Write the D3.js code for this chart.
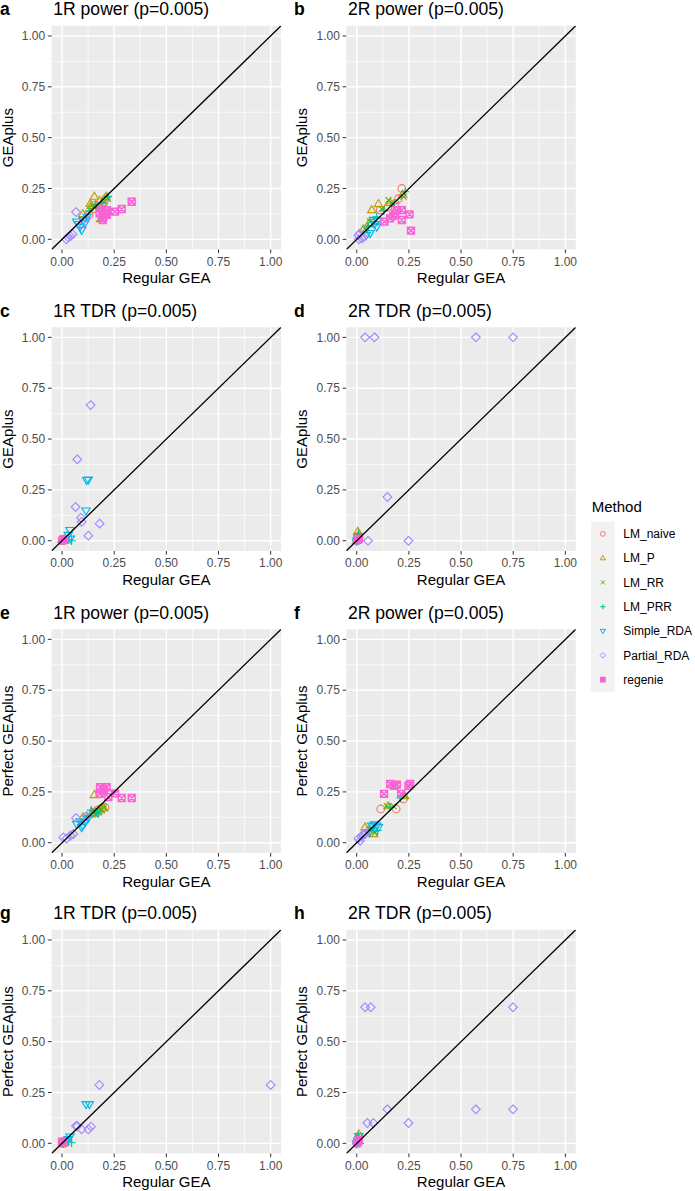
<!DOCTYPE html>
<html>
<head>
<meta charset="utf-8">
<script src="https://cdn.jsdelivr.net/npm/d3@7"></script>
<style>
  body { margin: 0; background: #fff; }
  text { font-family: "Liberation Sans", Arial, Helvetica, sans-serif; }
</style>
</head>
<body>
<div id="root"></div>
<script>
let methods = ['LM_naive', 'LM_P', 'LM_RR', 'LM_PRR', 'Simple_RDA', 'Partial_RDA', 'regenie'];
let colors = ['#F8766D', '#C49A00', '#53B400', '#00C094', '#00B6EB', '#A58AFF', '#FB61D7'];
let ticks = [0, 0.25, 0.5, 0.75, 1];
let tickLabels = ['0.00', '0.25', '0.50', '0.75', '1.00'];
let minorTicks = [0.125, 0.375, 0.625, 0.875];

let tags = ['a', 'b', 'c', 'd', 'e', 'f', 'g', 'h'];
let titles = ['1R power (p=0.005)', '2R power (p=0.005)', '1R TDR (p=0.005)', '2R TDR (p=0.005)',
              '1R power (p=0.005)', '2R power (p=0.005)', '1R TDR (p=0.005)', '2R TDR (p=0.005)'];
let yTitles = ['GEAplus', 'GEAplus', 'GEAplus', 'GEAplus',
               'Perfect GEAplus', 'Perfect GEAplus', 'Perfect GEAplus', 'Perfect GEAplus'];
let xTitle = 'Regular GEA';

// [method, regular GEA, GEAplus]
let panelA = [
    ['LM_naive',0.16,0.17],['LM_naive',0.18,0.16],['LM_naive',0.20,0.18],['LM_naive',0.15,0.15],['LM_naive',0.13,0.12],['LM_naive',0.21,0.20],
    ['LM_P',0.155,0.21],['LM_P',0.135,0.175],['LM_P',0.18,0.19],['LM_P',0.10,0.125],['LM_P',0.21,0.21],['LM_P',0.185,0.10],['LM_P',0.14,0.165],
    ['LM_RR',0.17,0.165],['LM_RR',0.20,0.185],['LM_RR',0.185,0.10],['LM_RR',0.15,0.16],['LM_RR',0.22,0.20],['LM_RR',0.12,0.12],
    ['LM_PRR',0.22,0.21],['LM_PRR',0.19,0.18],['LM_PRR',0.16,0.17],['LM_PRR',0.175,0.155],['LM_PRR',0.13,0.14],
    ['Simple_RDA',0.07,0.087],['Simple_RDA',0.086,0.062],['Simple_RDA',0.10,0.095],['Simple_RDA',0.12,0.11],['Simple_RDA',0.094,0.046],['Simple_RDA',0.078,0.075],['Simple_RDA',0.11,0.08],
    ['Partial_RDA',0.02,0.0],['Partial_RDA',0.03,0.01],['Partial_RDA',0.04,0.015],['Partial_RDA',0.05,0.025],['Partial_RDA',0.067,0.134],['Partial_RDA',0.115,0.105],['Partial_RDA',0.09,0.07],
    ['regenie',0.334,0.185],['regenie',0.286,0.149],['regenie',0.254,0.136],['regenie',0.214,0.12],['regenie',0.198,0.11],['regenie',0.18,0.128],['regenie',0.19,0.15],['regenie',0.214,0.144],['regenie',0.195,0.095],['regenie',0.21,0.13]
];
let panelB = [
    ['LM_naive',0.216,0.25],['LM_naive',0.112,0.144],['LM_naive',0.184,0.177],['LM_naive',0.15,0.16],['LM_naive',0.07,0.08],['LM_naive',0.2,0.2],
    ['LM_P',0.104,0.174],['LM_P',0.072,0.144],['LM_P',0.032,0.05],['LM_P',0.06,0.08],['LM_P',0.16,0.18],['LM_P',0.22,0.22],
    ['LM_RR',0.152,0.193],['LM_RR',0.224,0.21],['LM_RR',0.168,0.177],['LM_RR',0.064,0.087],['LM_RR',0.04,0.05],['LM_RR',0.12,0.15],
    ['LM_PRR',0.232,0.234],['LM_PRR',0.056,0.062],['LM_PRR',0.096,0.111],['LM_PRR',0.18,0.175],['LM_PRR',0.13,0.14],
    ['Simple_RDA',0.08,0.095],['Simple_RDA',0.096,0.062],['Simple_RDA',0.064,0.03],['Simple_RDA',0.045,0.02],['Simple_RDA',0.085,0.075],['Simple_RDA',0.1,0.09],
    ['Partial_RDA',0.008,0.02],['Partial_RDA',0.024,0.005],['Partial_RDA',0.016,0.03],['Partial_RDA',0.032,0.01],['Partial_RDA',0.01,0.0],
    ['regenie',0.133,0.087],['regenie',0.16,0.103],['regenie',0.184,0.128],['regenie',0.192,0.144],['regenie',0.216,0.144],['regenie',0.216,0.095],['regenie',0.253,0.123],['regenie',0.26,0.043],['regenie',0.175,0.115]
];
let panelC = [
    ['LM_naive',0.0,0.0],['LM_naive',0.005,0.0],
    ['LM_P',0.01,0.0],['LM_P',0.0,0.005],
    ['LM_RR',0.005,0.005],
    ['LM_PRR',0.046,0.0],['LM_PRR',0.03,0.006],['LM_PRR',0.01,0.01],
    ['Simple_RDA',0.126,0.30],['Simple_RDA',0.118,0.298],['Simple_RDA',0.115,0.148],['Simple_RDA',0.038,0.052],['Simple_RDA',0.03,0.028],['Simple_RDA',0.014,0.007],['Simple_RDA',0.04,0.01],
    ['Partial_RDA',0.137,0.667],['Partial_RDA',0.073,0.40],['Partial_RDA',0.065,0.166],['Partial_RDA',0.091,0.113],['Partial_RDA',0.094,0.093],['Partial_RDA',0.18,0.084],['Partial_RDA',0.126,0.025],['Partial_RDA',0.006,0.003],
    ['regenie',0.006,0.006],['regenie',0.002,0.002],['regenie',0.01,0.004]
];
let panelD = [
    ['LM_naive',0.005,0.02],['LM_naive',0.0,0.0],
    ['LM_P',0.005,0.045],['LM_P',0.01,0.03],['LM_P',0.0,0.0],
    ['LM_RR',0.01,0.01],['LM_RR',0.0,0.02],
    ['LM_PRR',0.008,0.035],['LM_PRR',0.01,0.0],
    ['Simple_RDA',0.0,0.0],['Simple_RDA',0.005,0.01],
    ['Partial_RDA',0.04,1.0],['Partial_RDA',0.085,1.0],['Partial_RDA',0.571,1.0],['Partial_RDA',0.749,1.0],['Partial_RDA',0.147,0.215],['Partial_RDA',0.054,0.0],['Partial_RDA',0.248,0.0],['Partial_RDA',0.0,0.0],
    ['regenie',0.005,0.005],['regenie',0.01,0.01]
];
let panelE = [
    ['LM_naive',0.206,0.174],['LM_naive',0.17,0.16],['LM_naive',0.15,0.15],['LM_naive',0.19,0.17],
    ['LM_P',0.155,0.235],['LM_P',0.10,0.125],['LM_P',0.17,0.15],['LM_P',0.2,0.17],['LM_P',0.14,0.14],
    ['LM_RR',0.15,0.158],['LM_RR',0.182,0.166],['LM_RR',0.2,0.174],['LM_RR',0.16,0.14],['LM_RR',0.19,0.16],
    ['LM_PRR',0.166,0.15],['LM_PRR',0.14,0.16],['LM_PRR',0.175,0.145],['LM_PRR',0.12,0.13],
    ['Simple_RDA',0.07,0.092],['Simple_RDA',0.094,0.076],['Simple_RDA',0.11,0.10],['Simple_RDA',0.126,0.122],['Simple_RDA',0.086,0.105],['Simple_RDA',0.1,0.085],
    ['Partial_RDA',0.067,0.122],['Partial_RDA',0.006,0.026],['Partial_RDA',0.022,0.021],['Partial_RDA',0.054,0.043],['Partial_RDA',0.118,0.13],['Partial_RDA',0.04,0.035],
    ['regenie',0.182,0.273],['regenie',0.214,0.273],['regenie',0.198,0.257],['regenie',0.222,0.224],['regenie',0.254,0.243],['regenie',0.286,0.22],['regenie',0.334,0.22],['regenie',0.18,0.24],['regenie',0.2,0.265]
];
let panelF = [
    ['LM_naive',0.115,0.166],['LM_naive',0.189,0.166],['LM_naive',0.224,0.215],['LM_naive',0.06,0.06],
    ['LM_P',0.08,0.043],['LM_P',0.04,0.076],['LM_P',0.15,0.18],['LM_P',0.23,0.23],
    ['LM_RR',0.144,0.18],['LM_RR',0.176,0.18],['LM_RR',0.232,0.23],['LM_RR',0.088,0.05],['LM_RR',0.07,0.06],
    ['LM_PRR',0.16,0.175],['LM_PRR',0.064,0.076],['LM_PRR',0.1,0.06],['LM_PRR',0.21,0.22],
    ['Simple_RDA',0.072,0.084],['Simple_RDA',0.096,0.084],['Simple_RDA',0.104,0.076],['Simple_RDA',0.085,0.09],['Simple_RDA',0.06,0.05],
    ['Partial_RDA',0.008,0.02],['Partial_RDA',0.024,0.03],['Partial_RDA',0.04,0.043],['Partial_RDA',0.016,0.01],['Partial_RDA',0.03,0.04],
    ['regenie',0.16,0.289],['regenie',0.192,0.286],['regenie',0.256,0.289],['regenie',0.131,0.24],['regenie',0.213,0.24],['regenie',0.179,0.28],['regenie',0.248,0.28]
];
let panelG = [
    ['LM_naive',0.0,0.0],['LM_naive',0.01,0.0],
    ['LM_P',0.005,0.0],['LM_P',0.015,0.005],
    ['LM_RR',0.01,0.005],
    ['LM_PRR',0.046,0.003],['LM_PRR',0.03,0.01],['LM_PRR',0.005,0.0],
    ['Simple_RDA',0.115,0.192],['Simple_RDA',0.131,0.192],['Simple_RDA',0.038,0.033],['Simple_RDA',0.022,0.016],['Simple_RDA',0.03,0.02],
    ['Partial_RDA',0.179,0.287],['Partial_RDA',1.0,0.287],['Partial_RDA',0.067,0.085],['Partial_RDA',0.073,0.085],['Partial_RDA',0.094,0.069],['Partial_RDA',0.126,0.069],['Partial_RDA',0.139,0.082],
    ['regenie',0.0,0.008],['regenie',0.005,0.005]
];
let panelH = [
    ['LM_naive',0.005,0.02],['LM_naive',0.0,0.0],
    ['LM_P',0.01,0.045],['LM_P',0.005,0.03],
    ['LM_RR',0.01,0.01],['LM_RR',0.015,0.025],
    ['LM_PRR',0.008,0.035],['LM_PRR',0.015,0.0],
    ['Simple_RDA',0.0,0.0],['Simple_RDA',0.005,0.01],['Simple_RDA',0.01,0.035],
    ['Partial_RDA',0.04,0.669],['Partial_RDA',0.067,0.669],['Partial_RDA',0.749,0.669],['Partial_RDA',0.571,0.167],['Partial_RDA',0.749,0.167],['Partial_RDA',0.147,0.167],['Partial_RDA',0.051,0.10],['Partial_RDA',0.08,0.10],['Partial_RDA',0.248,0.10],['Partial_RDA',0.0,0.0],
    ['regenie',0.005,0.005],['regenie',0.01,0.015]
];
let panels = [panelA, panelB, panelC, panelD, panelE, panelF, panelG, panelH];

// layout
let colLeft = [51.6, 346.3];
let tagLeft = [0, 294];
let rowTop = [25.8, 327.2, 629.2, 929.8];
let plotW = 229.5;
let plotH = 223.7;

let color = d3.scaleOrdinal().domain(methods).range(colors);

function shapePath(method, r) {
    let p = d3.path();
    let i = methods.indexOf(method);
    if (i === 0) {
        p.moveTo(r, 0);
        p.arc(0, 0, r, 0, 2 * Math.PI);
    } else if (i === 1) {
        let h = r * 1.15;
        p.moveTo(0, -h);
        p.lineTo(h * 0.95, h * 0.6);
        p.lineTo(-h * 0.95, h * 0.6);
        p.closePath();
    } else if (i === 2) {
        let a = r * 0.8;
        p.moveTo(-a, -a); p.lineTo(a, a);
        p.moveTo(-a, a); p.lineTo(a, -a);
    } else if (i === 3) {
        let a = r * 1.1;
        p.moveTo(-a, 0); p.lineTo(a, 0);
        p.moveTo(0, -a); p.lineTo(0, a);
    } else if (i === 4) {
        let h = r * 1.15;
        p.moveTo(0, h);
        p.lineTo(h * 0.95, -h * 0.6);
        p.lineTo(-h * 0.95, -h * 0.6);
        p.closePath();
    } else if (i === 5) {
        let a = r * 1.15;
        p.moveTo(0, -a); p.lineTo(a, 0); p.lineTo(0, a); p.lineTo(-a, 0);
        p.closePath();
    } else {
        let a = r * 0.9;
        p.rect(-a, -a, 2 * a, 2 * a);
        p.moveTo(-a, -a); p.lineTo(a, a);
        p.moveTo(-a, a); p.lineTo(a, -a);
    }
    return p.toString();
}

function render() {
    let svg = d3.select('#root').append('svg')
        .attr('width', 695)
        .attr('height', 1191);

    panels.forEach((data, k) => {
        let col = k % 2;
        let row = Math.floor(k / 2);
        let left = colLeft[col];
        let top = rowTop[row];

        let x = d3.scaleLinear().domain([-0.05, 1.05]).range([0, plotW]);
        let y = d3.scaleLinear().domain([-0.05, 1.05]).range([plotH, 0]);

        let g = svg.append('g').attr('transform', `translate(${left},${top})`);

        g.append('rect')
            .attr('width', plotW)
            .attr('height', plotH)
            .attr('fill', '#EBEBEB');

        let grid = g.append('g');
        grid.selectAll('line.minx').data(minorTicks).join('line')
            .attr('x1', d => x(d)).attr('x2', d => x(d))
            .attr('y1', 0).attr('y2', plotH)
            .attr('stroke', '#fff').attr('stroke-width', 0.7);
        grid.selectAll('line.miny').data(minorTicks).join('line')
            .attr('y1', d => y(d)).attr('y2', d => y(d))
            .attr('x1', 0).attr('x2', plotW)
            .attr('stroke', '#fff').attr('stroke-width', 0.7);
        grid.selectAll('line.majx').data(ticks).join('line')
            .attr('x1', d => x(d)).attr('x2', d => x(d))
            .attr('y1', 0).attr('y2', plotH)
            .attr('stroke', '#fff').attr('stroke-width', 1.4);
        grid.selectAll('line.majy').data(ticks).join('line')
            .attr('y1', d => y(d)).attr('y2', d => y(d))
            .attr('x1', 0).attr('x2', plotW)
            .attr('stroke', '#fff').attr('stroke-width', 1.4);

        let clipId = 'clip' + k;
        g.append('clipPath').attr('id', clipId)
            .append('rect').attr('width', plotW).attr('height', plotH);

        let marks = g.append('g').attr('clip-path', `url(#${clipId})`);

        marks.selectAll('path.pt')
            .data(data)
            .join('path')
            .attr('class', 'pt')
            .attr('transform', d => `translate(${x(d[1])},${y(d[2])})`)
            .attr('d', d => shapePath(d[0], 3.8))
            .attr('fill', 'none')
            .attr('stroke', d => color(d[0]))
            .attr('stroke-width', d => d[0] === 'regenie' ? 1.5 : 1.15);

        marks.append('line')
            .attr('x1', x(-0.05)).attr('y1', y(-0.05))
            .attr('x2', x(1.05)).attr('y2', y(1.05))
            .attr('stroke', '#000')
            .attr('stroke-width', 1.3);

        // axes
        let yAxis = g.append('g');
        yAxis.selectAll('line').data(ticks).join('line')
            .attr('x1', -3.7).attr('x2', 0)
            .attr('y1', d => y(d)).attr('y2', d => y(d))
            .attr('stroke', '#333').attr('stroke-width', 1);
        yAxis.selectAll('text').data(ticks).join('text')
            .attr('x', -6.4)
            .attr('y', d => y(d) + 4.3)
            .attr('text-anchor', 'end')
            .attr('font-size', 12)
            .attr('fill', '#4D4D4D')
            .text((d, i) => tickLabels[i]);

        let xAxis = g.append('g').attr('transform', `translate(0,${plotH})`);
        xAxis.selectAll('line').data(ticks).join('line')
            .attr('y1', 0).attr('y2', 3.7)
            .attr('x1', d => x(d)).attr('x2', d => x(d))
            .attr('stroke', '#333').attr('stroke-width', 1);
        xAxis.selectAll('text').data(ticks).join('text')
            .attr('x', d => x(d))
            .attr('y', 16)
            .attr('text-anchor', 'middle')
            .attr('font-size', 12)
            .attr('fill', '#4D4D4D')
            .text((d, i) => tickLabels[i]);

        g.append('text')
            .attr('x', plotW / 2)
            .attr('y', plotH + 34)
            .attr('text-anchor', 'middle')
            .attr('font-size', 15)
            .attr('fill', '#000')
            .text(xTitle);

        g.append('text')
            .attr('transform', `translate(-39,${plotH / 2}) rotate(-90)`)
            .attr('text-anchor', 'middle')
            .attr('font-size', 15)
            .attr('fill', '#000')
            .text(yTitles[k]);

        g.append('text')
            .attr('x', 1.6)
            .attr('y', -10.6)
            .attr('font-size', 17.6)
            .attr('fill', '#000')
            .text(titles[k]);

        svg.append('text')
            .attr('x', tagLeft[col])
            .attr('y', top - 10.6)
            .attr('font-size', 17.6)
            .attr('font-weight', 'bold')
            .attr('fill', '#000')
            .text(tags[k]);
    });

    // legend
    let legend = svg.append('g').attr('transform', 'translate(591,0)');
    legend.append('text')
        .attr('x', 0.7)
        .attr('y', 512.3)
        .attr('font-size', 15)
        .attr('fill', '#000')
        .text('Method');

    let keyH = 24.3;
    let keyTop = 521.7;
    let item = legend.selectAll('g.key')
        .data(methods)
        .join('g')
        .attr('class', 'key')
        .attr('transform', (d, i) => `translate(0,${keyTop + i * keyH})`);
    item.append('rect')
        .attr('width', 23.7)
        .attr('height', keyH)
        .attr('fill', '#F2F2F2');
    item.append('path')
        .attr('transform', `translate(11.85,${keyH / 2})`)
        .attr('d', d => shapePath(d, 2.4))
        .attr('fill', 'none')
        .attr('stroke', d => color(d))
        .attr('stroke-width', d => d === 'regenie' ? 1.4 : 1);
    item.append('text')
        .attr('x', 32.3)
        .attr('y', keyH / 2 + 4.3)
        .attr('font-size', 12)
        .attr('fill', '#000')
        .text(d => d);
}

render();
</script>
</body>
</html>
